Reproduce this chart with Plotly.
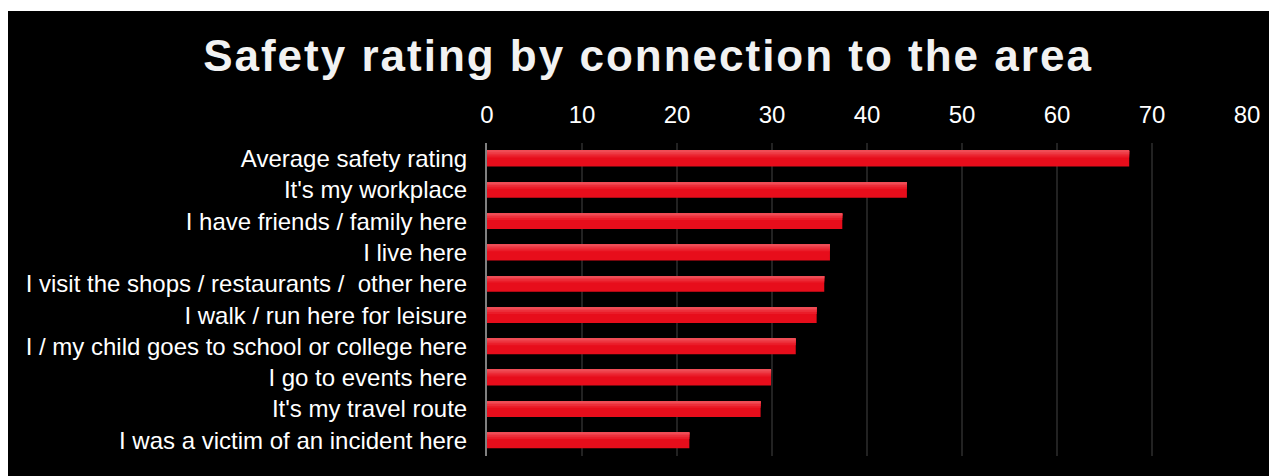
import plotly.graph_objects as go

categories = [
    "Average safety rating",
    "It's my workplace",
    "I have friends / family here",
    "I live here",
    "I visit the shops / restaurants /\u00a0 other here",
    "I walk / run here for leisure",
    "I / my child goes to school or college here",
    "I go to events here",
    "It's my travel route",
    "I was a victim of an incident here",
]
values = [67.6, 44.2, 37.4, 36.1, 35.5, 34.7, 32.5, 29.9, 28.8, 21.3]
x_ticks = [0, 10, 20, 30, 40, 50, 60, 70, 80]

# the page body has an 8px margin; figure coordinates = page coordinates - 8
W, H = 1269, 468
L, R, T, B = 479, 30, 135, 20
pw, ph = W - L - R, H - T - B

FONT = "Liberation Sans, Arial, sans-serif"

fig = go.Figure()

# base bar + lighter bands at the top to imitate the gradient
bar_w = 0.5
bands = [  # (start fraction from top, end fraction, colour)
    (0.0, 1.0, "#e70d1b"),
    (0.0, 0.42, "#ea1c29"),
    (0.0, 0.30, "#ec2d38"),
    (0.0, 0.18, "#ee3f49"),
    (0.0, 0.08, "#ef4c55"),
]
for f0, f1, col in bands:
    fig.add_trace(go.Bar(
        x=values, y=categories, orientation="h",
        width=bar_w * (f1 - f0), offset=-bar_w / 2 + bar_w * f0,
        marker=dict(color=col, line=dict(width=0)),
        showlegend=False, hoverinfo="x+y",
    ))

# black panel, leaving a thin white strip at the top
top_px = 3
fig.add_shape(
    type="rect", xref="paper", yref="paper", layer="below",
    x0=(0 - L) / pw - 0.01, x1=(W - L) / pw + 0.01,
    y0=-(B + 2) / ph, y1=(T + ph - top_px) / ph,
    fillcolor="black", line=dict(width=0),
)

fig.update_layout(
    width=W, height=H,
    margin=dict(l=L, r=R, t=T, b=B),
    paper_bgcolor="white", plot_bgcolor="black",
    barmode="overlay",
    title=dict(
        text="<b><span style='letter-spacing:2px'>Safety rating by connection to the area</span></b>",
        x=640 / W, xref="container", xanchor="center",
        y=1 - 48 / H, yref="container", yanchor="middle",
        font=dict(family=FONT, size=44, color="#f2f2f2"),
    ),
    xaxis=dict(
        side="top", range=[0, 80], tickvals=x_ticks,
        showgrid=True, gridcolor="#222222", gridwidth=2,
        zeroline=False, showline=False,
        ticks="", ticklabelstandoff=14,
        tickfont=dict(family=FONT, size=24, color="white"),
        fixedrange=True,
    ),
    yaxis=dict(
        type="category", autorange="reversed",
        showgrid=False, zeroline=False,
        showline=True, linecolor="#808080", linewidth=2,
        ticks="", ticklabelstandoff=13,
        tickfont=dict(family=FONT, size=24, color="white"),
        fixedrange=True,
    ),
)

fig.write_html("out.html")
